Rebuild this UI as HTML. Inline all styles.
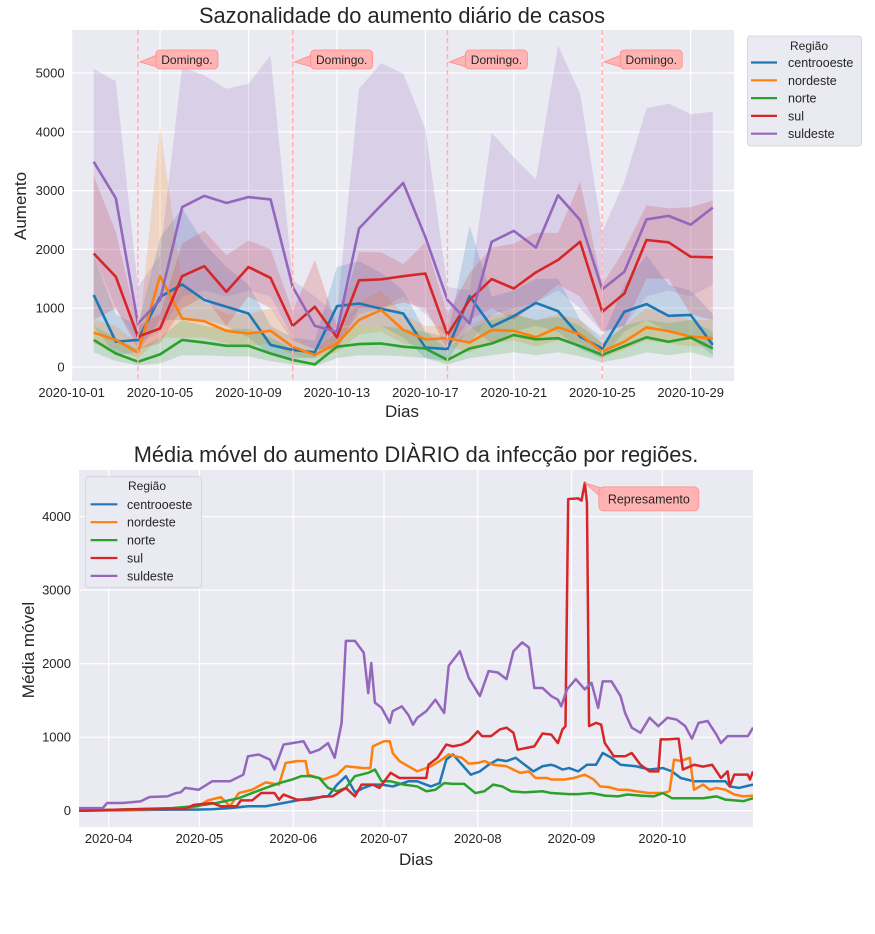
<!DOCTYPE html>
<html><head><meta charset="utf-8">
<style>
html,body{margin:0;padding:0;background:#fff;}
svg{display:block;font-family:"Liberation Sans","DejaVu Sans",sans-serif;}
</style></head>
<body>
<svg id="chart" width="875" height="934" viewBox="0 0 875 934"></svg>
<script>
// ---------- Top chart data (October days) ----------
const topDays = [2,3,4,5,6,7,8,9,10,11,12,13,14,15,16,17,18,19,20,21,22,23,24,25,26,27,28,29,30];
const topYTicks = [0,1000,2000,3000,4000,5000];
const topXTickDays = [1,5,9,13,17,21,25,29];
const topXTickLabels = ["2020-10-01","2020-10-05","2020-10-09","2020-10-13","2020-10-17","2020-10-21","2020-10-25","2020-10-29"];
const sundayDays = [4,11,18,25];
const regions = ["centrooeste","nordeste","norte","sul","suldeste"];

const coMean = [1225,430,460,1190,1405,1140,1025,910,375,290,250,1035,1080,990,910,330,305,1205,685,865,1090,950,515,315,940,1070,870,885,375];
const coHi = [1900,900,700,2200,2700,2100,1700,1400,700,500,450,1700,1800,1600,1300,600,500,2400,1200,1300,1500,1500,800,500,1400,1900,1400,1300,900];
const coLo = [700,200,250,800,800,800,700,500,200,150,150,700,700,700,500,150,100,700,400,600,700,600,300,150,600,800,600,500,200];

const neMean = [585,460,245,1545,825,780,615,570,615,345,205,400,800,970,630,470,490,415,630,615,505,675,555,260,430,675,610,515,490];
const neHi = [800,700,400,4100,1400,1100,900,900,1000,500,300,600,1100,1300,900,700,700,700,900,900,800,900,800,400,700,1000,900,800,800];
const neLo = [400,300,150,500,500,500,400,350,400,200,150,250,550,600,400,350,350,250,400,450,350,450,400,150,300,450,400,350,350];

const noMean = [460,230,90,215,460,415,360,360,230,120,45,345,390,400,345,315,120,315,400,545,470,490,355,205,355,505,430,500,315];
const noHi = [700,500,300,500,800,700,650,650,500,300,200,650,700,700,650,600,300,650,800,900,800,850,700,400,700,800,750,800,600];
const noLo = [250,100,30,60,200,200,180,180,100,40,10,150,200,200,180,150,40,150,200,250,200,250,180,80,150,250,200,250,150];

const suMean = [1930,1535,515,655,1545,1715,1280,1700,1515,700,1025,505,1475,1490,1545,1590,545,1140,1495,1335,1610,1820,2130,940,1250,2160,2120,1875,1865];
const suHi = [3250,2300,700,900,2100,2320,1900,2150,2000,950,1820,700,1960,1950,1750,2120,900,1600,2030,2100,2280,2280,3150,1400,2000,2750,2700,2720,2830];
const suLo = [800,1000,300,400,1000,1200,700,1200,1000,450,300,300,1000,1000,1100,1000,300,800,1000,800,1100,1400,1200,600,700,1500,1500,900,800];

const sdMean = [3490,2870,740,1140,2720,2910,2790,2890,2850,1360,700,600,2355,2750,3130,2210,1140,740,2130,2315,2030,2920,2500,1320,1620,2510,2570,2420,2710];
const sdHi = [5070,4860,1360,1900,5100,4960,4730,4820,5300,1480,1200,900,4730,5170,4990,4050,1360,1300,3980,3570,3190,5470,4650,2300,3150,4400,4480,4300,4340];
const sdLo = [1900,1000,400,600,1200,1300,1200,1300,1200,500,300,300,900,1000,1200,900,500,400,900,1000,1100,1300,1000,600,700,1200,1300,1200,1400];

// ---------- Bottom chart data (days since 2020-04-01) ----------
const botYTicks = [0,1000,2000,3000,4000];
const botXTickDays = [0,30,61,91,122,153,183];
const botXTickLabels = ["2020-04","2020-05","2020-06","2020-07","2020-08","2020-09","2020-10"];

const mmCoDays = [-9.8,20.9,28.2,34.2,40.1,46.0,51.9,57.8,63.7,66.6,72.5,75.5,78.4,81.4,84.3,87.3,90.2,93.9,99.1,102.0,106.5,109.4,111.6,113.8,116.8,119.7,122.7,125.6,128.6,131.5,134.5,137.5,140.4,143.4,146.3,147.8,150.0,152.2,155.2,158.1,161.1,163.3,166.2,169.2,174.3,178.8,183.2,186.2,189.1,193.5,199.5,203.9,205.3,208.3,213.0];
const mmCoVals = [0,15,15,20,35,60,60,105,150,170,195,355,470,250,310,355,355,330,400,400,330,375,695,765,625,490,535,625,695,675,720,625,535,605,625,605,560,580,535,625,625,785,720,625,605,560,580,535,445,400,400,400,330,310,355];

const mmNeDays = [-9.8,13.5,25.3,29.7,32.7,37.1,40.1,43.0,47.4,51.9,56.3,58.5,62.2,65.1,65.9,71.0,75.5,78.4,84.3,86.5,87.3,91.0,92.9,93.9,96.1,102.0,106.5,109.4,112.4,114.6,116.8,119.0,122.0,124.2,127.1,131.5,136.0,138.9,141.1,144.8,146.3,150.7,153.7,157.4,160.3,162.5,165.5,168.4,171.4,174.3,178.8,183.2,185.4,186.9,189.1,192.1,193.5,196.5,198.7,200.9,203.9,206.8,209.8,213.0];
const mmNeVals = [0,20,35,60,140,185,60,240,285,385,355,650,675,675,490,425,490,605,580,580,875,945,945,785,675,535,605,675,765,740,720,640,650,675,625,605,515,535,445,445,425,425,445,490,425,330,320,285,285,265,240,240,265,695,675,720,285,355,285,310,285,220,195,205];

const mmNoDays = [-9.8,20.9,28.2,35.6,43.0,47.4,51.9,56.3,60.7,63.7,66.6,69.6,72.5,75.5,78.4,81.4,85.8,88.0,90.2,93.2,97.6,102.0,105.0,108.0,110.9,113.8,117.5,121.2,124.2,127.1,130.1,133.0,137.5,143.4,146.3,152.2,155.2,159.6,164.0,168.4,171.4,175.8,180.2,183.2,186.2,190.6,196.5,200.9,203.9,209.8,213.0];
const mmNoVals = [0,35,60,105,170,240,310,375,425,470,470,445,310,265,310,470,515,560,400,400,355,330,265,285,375,365,365,240,265,355,330,265,250,265,240,225,225,240,205,195,220,205,195,240,170,170,170,195,150,130,170];

const mmSuDays = [-9.8,13.5,25.3,28.2,34.2,37.1,42.3,43.7,47.4,50.4,54.8,56.3,57.8,62.2,66.6,71.0,74.0,78.4,81.4,83.6,87.3,89.5,93.2,96.1,100.6,105.0,105.7,108.7,111.6,113.8,116.8,119.0,122.0,123.4,126.4,129.3,131.5,133.8,135.2,138.2,140.7,143.4,146.3,148.5,150.0,151.0,151.9,155.2,156.3,157.4,158.1,158.8,161.1,162.8,164.0,167.0,170.7,172.9,175.8,178.8,181.7,182.5,184.7,188.4,189.8,193.5,196.5,199.5,202.4,204.6,205.3,206.8,211.3,212.0,213.0];
const mmSuVals = [0,25,25,80,105,60,60,140,140,240,240,150,220,150,150,195,195,310,195,355,355,310,515,445,445,445,625,720,900,875,900,945,1080,1015,1015,1105,1130,1060,830,855,875,1050,1035,920,1105,1150,4240,4250,4220,4460,4190,1150,1195,1170,920,740,740,785,625,535,535,970,970,980,560,625,600,625,445,535,330,490,490,425,535];

const mmSdDays = [-10,-2,-0.5,4.6,10.5,13.5,19.4,22.3,23.8,25.3,29.7,34.2,40.1,44.5,46.0,49.6,53.3,54.8,57.8,60.7,64.4,66.6,69.6,72.5,74.7,77.0,78.4,81.4,84.3,85.8,86.8,88.0,90.2,92.9,93.9,96.9,99.1,100.6,102.0,105.0,108.0,110.9,112.4,116.1,119.0,122.7,125.6,128.6,131.5,133.8,136.7,138.9,140.7,143.4,146.3,148.5,149.6,151.5,154.4,157.4,159.6,161.8,163.3,166.2,169.2,170.7,172.9,175.8,178.8,181.7,184.7,187.7,190.6,192.8,195.0,198.0,200.9,202.4,204.6,208.3,211.3,213.0];
const mmSdVals = [35,35,105,105,127,186,195,240,250,310,285,400,400,490,740,765,695,560,900,920,945,785,830,920,720,1195,2310,2310,2150,1600,2010,1470,1400,1195,1355,1420,1300,1170,1265,1355,1510,1330,1970,2170,1810,1560,1900,1880,1790,2170,2290,2220,1670,1670,1560,1510,1420,1650,1790,1650,1740,1400,1760,1760,1560,1330,1130,1060,1265,1150,1265,1240,1150,980,1195,1220,1035,920,1015,1015,1015,1130];

const peakLabel = "Represamento";
</script>
<script>
const NS = "http://www.w3.org/2000/svg";
const svg = document.getElementById("chart");
const COLORS = ["#1f77b4","#ff7f0e","#2ca02c","#d62728","#9467bd"];
function mk(tag, attrs, parent){
  const e = document.createElementNS(NS, tag);
  for (const k in attrs) e.setAttribute(k, attrs[k]);
  (parent||svg).appendChild(e);
  return e;
}
function txt(s, attrs, parent){ const t = mk("text", attrs, parent); t.textContent = s; return t; }

// ===== TOP CHART =====
const T = {l:71.6, r:734, t:30, b:381};
const tx = d => T.l + 22.11*(d-1);
const ty = v => 367 - v*0.0588;
const gTop = mk("g", {});


const bgT = mk("rect", {x:T.l, y:T.t, width:T.r-T.l, height:T.b-T.t, fill:"#eaeaf2"}, gTop);


topYTicks.forEach(v=>{
  const gl = mk("line", {x1:T.l, x2:T.r, y1:ty(v), y2:ty(v), stroke:"#fff", "stroke-width":1.2}, gTop);
  
  
  const lb = txt(String(v), {x:T.l-7, y:ty(v)+4.5, "text-anchor":"end", "font-size":13, fill:"#262626"}, gTop);
  
  
});
topXTickDays.forEach((d,i)=>{
  const gl = mk("line", {x1:tx(d), x2:tx(d), y1:T.t, y2:T.b, stroke:"#fff", "stroke-width":1.2}, gTop);
  
  
  const lb = txt(topXTickLabels[i], {x:tx(d), y:397, "text-anchor":"middle", "font-size":13, fill:"#262626"}, gTop);
  
  
});
const topSeries = [[coMean,coLo,coHi],[neMean,neLo,neHi],[noMean,noLo,noHi],[suMean,suLo,suHi],[sdMean,sdLo,sdHi]];
topSeries.forEach((s,i)=>{
  const hi = s[2].map((v,k)=>tx(topDays[k])+","+ty(v));
  const lo = s[1].map((v,k)=>tx(topDays[k])+","+ty(v)).reverse();
  const band = mk("polygon", {points:hi.concat(lo).join(" "), fill:COLORS[i], "fill-opacity":0.2, stroke:"none"}, gTop);
  
  
});
topSeries.forEach((s,i)=>{
  const pts = s[0].map((v,k)=>tx(topDays[k])+","+ty(v)).join(" ");
  const ln = mk("polyline", {points:pts, fill:"none", stroke:COLORS[i], "stroke-width":2.6, "stroke-linejoin":"round"}, gTop);
  
  
});
sundayDays.forEach(d=>{
  const lx = tx(d);
  const vl = mk("line", {x1:lx, x2:lx, y1:T.t, y2:T.b, stroke:"#ffb0b0", "stroke-width":1.4, "stroke-dasharray":"5,3"}, gTop);
  
  
  const g = mk("g", {}, gTop);
  
  
  const bx = lx+18;
  mk("polygon", {points:(lx+2)+",62 "+(bx+1)+",55 "+(bx+1)+",67", fill:"#ffb3b3", stroke:"#ff8c8c", "stroke-width":0.8}, g);
  mk("rect", {x:bx, y:50, width:62, height:19, rx:4, fill:"#ffb3b3", stroke:"#ff8c8c", "stroke-width":0.8}, g);
  txt("Domingo.", {x:bx+31, y:64, "text-anchor":"middle", "font-size":12, fill:"#262626"}, g);
});
const tt = txt("Sazonalidade do aumento diário de casos", {x:402, y:23, "text-anchor":"middle", "font-size":21.8, fill:"#262626"}, gTop);


const tyl = txt("Aumento", {x:0, y:0, transform:"translate(26,206) rotate(-90)", "text-anchor":"middle", "font-size":17, fill:"#262626"}, gTop);


const txl = txt("Dias", {x:402, y:417, "text-anchor":"middle", "font-size":17, fill:"#262626"}, gTop);



// top legend
const lgT = mk("g", {}, gTop);


mk("rect", {x:747.5, y:36, width:114, height:110, rx:3, fill:"#eaeaf2", stroke:"#d0d0d8", "stroke-width":0.8}, lgT);
txt("Região", {x:809, y:50, "text-anchor":"middle", "font-size":12, fill:"#262626"}, lgT);
regions.forEach((r,i)=>{
  const y = 62.5 + i*17.8;
  const e = mk("g", {}, lgT);
  
  
  mk("line", {x1:751, x2:777, y1:y, y2:y, stroke:COLORS[i], "stroke-width":2.2}, e);
  txt(r, {x:788, y:y+4.5, "font-size":12.5, fill:"#262626"}, e);
});

// ===== BOTTOM CHART =====
const B = {l:79, r:753, t:470, b:827};
const bx_ = d => 108.7 + 3.025*d;
const by_ = v => 810.7 - v*0.0735;
const gBot = mk("g", {});


const clip = mk("clipPath", {id:"botclip"}, gBot);
mk("rect", {x:B.l, y:B.t, width:B.r-B.l, height:B.b-B.t}, clip);
const bgB = mk("rect", {x:B.l, y:B.t, width:B.r-B.l, height:B.b-B.t, fill:"#eaeaf2"}, gBot);


botYTicks.forEach(v=>{
  const gl = mk("line", {x1:B.l, x2:B.r, y1:by_(v), y2:by_(v), stroke:"#fff", "stroke-width":1.2}, gBot);
  
  
  const lb = txt(String(v), {x:B.l-8, y:by_(v)+4.5, "text-anchor":"end", "font-size":13, fill:"#262626"}, gBot);
  
  
});
botXTickDays.forEach((d,i)=>{
  const gl = mk("line", {x1:bx_(d), x2:bx_(d), y1:B.t, y2:B.b, stroke:"#fff", "stroke-width":1.2}, gBot);
  
  
  const lb = txt(botXTickLabels[i], {x:bx_(d), y:843, "text-anchor":"middle", "font-size":13, fill:"#262626"}, gBot);
  
  
});
const botSeries = [[mmCoDays,mmCoVals],[mmNeDays,mmNeVals],[mmNoDays,mmNoVals],[mmSuDays,mmSuVals],[mmSdDays,mmSdVals]];
botSeries.forEach((s,i)=>{
  const pts = s[1].map((v,k)=>bx_(s[0][k])+","+by_(v)).join(" ");
  const ln = mk("polyline", {points:pts, fill:"none", stroke:COLORS[i], "stroke-width":2.5, "stroke-linejoin":"round", "clip-path":"url(#botclip)"}, gBot);
  
  
});
// peak annotation
let pk = 0; mmSuVals.forEach((v,k)=>{ if (v > mmSuVals[pk]) pk = k; });
const px = bx_(mmSuDays[pk]), py = by_(mmSuVals[pk]);
const ann = mk("g", {}, gBot);


mk("polygon", {points:px+","+py+" "+(px+16)+","+(py+5)+" "+(px+16)+","+(py+14), fill:"#ffb3b3", stroke:"#ff8c8c", "stroke-width":0.8}, ann);
mk("rect", {x:px+14, y:py+4, width:100, height:24, rx:5, fill:"#ffb3b3", stroke:"#ff8c8c", "stroke-width":0.8}, ann);
txt(peakLabel, {x:px+64, y:py+20.5, "text-anchor":"middle", "font-size":12.5, fill:"#262626"}, ann);

const bt = txt("Média móvel do aumento DIÀRIO da infecção por regiões.", {x:416, y:462, "text-anchor":"middle", "font-size":21.8, fill:"#262626"}, gBot);


const byl = txt("Média móvel", {x:0, y:0, transform:"translate(34,650) rotate(-90)", "text-anchor":"middle", "font-size":17, fill:"#262626"}, gBot);


const bxl = txt("Dias", {x:416, y:865, "text-anchor":"middle", "font-size":17, fill:"#262626"}, gBot);



const lgB = mk("g", {}, gBot);


mk("rect", {x:85.7, y:476.7, width:116, height:111, rx:3, fill:"#eaeaf2", stroke:"#d0d0d8", "stroke-width":0.8}, lgB);
txt("Região", {x:147, y:490, "text-anchor":"middle", "font-size":12, fill:"#262626"}, lgB);
regions.forEach((r,i)=>{
  const y = 504.3 + i*17.9;
  const e = mk("g", {}, lgB);
  
  
  mk("line", {x1:90.6, x2:117.4, y1:y, y2:y, stroke:COLORS[i], "stroke-width":2.2}, e);
  txt(r, {x:127, y:y+4.5, "font-size":12.5, fill:"#262626"}, e);
});
</script>
</body></html>
